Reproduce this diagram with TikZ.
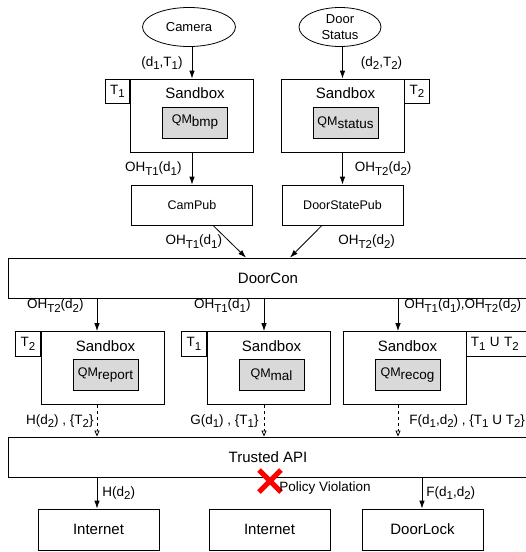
\documentclass[tikz,border=0pt]{standalone}
\usepackage{fontspec}
\setmainfont{Liberation Sans}
\newcommand*{\fs}[1]{\fontsize{#1}{#1}\selectfont}
\newcommand*{\sbs}[1]{\raisebox{-.45ex}{\scalebox{.85}{#1}}}
\newcommand*{\qmsub}[1]{QM\raisebox{-.45ex}{\fs{13.5}#1}}
\usetikzlibrary{positioning,shapes.geometric,shapes.misc,arrows.meta}
\tikzset{>={Latex[length=8pt,width=5.5pt]},
  box/.style={draw,minimum width=121pt,minimum height=41pt,inner sep=0pt,font=\fs{15}},
  pub/.style={box,minimum height=40pt,font=\fs{12.5}},
  bus/.style={draw,minimum width=520pt,minimum height=40pt,inner sep=0pt,font=\fs{15}},
  sensor/.style={draw,ellipse,minimum height=39pt,inner sep=0pt,align=center,font=\fontsize{13}{16}\selectfont},
  sandbox/.style={draw,minimum width=123pt,minimum height=73pt,inner sep=0pt},
  qm/.style={draw,fill=gray!30,minimum width=65pt,minimum height=31pt,inner sep=0pt,font=\fs{12.5}},
  tab/.style={draw,minimum width=24.5pt,minimum height=24.5pt,inner sep=0pt,font=\fs{13.5}},
  lbl/.style={inner sep=1pt,font=\fs{13.5}},
  flow/.style={dashed,-{Triangle[open,length=6pt,width=5pt]}}}

\begin{document}
\begin{tikzpicture}[x=1pt,y=-1pt,line width=.8pt]
\clip (0,0) rectangle (526,552);

\node[sensor,minimum width=93pt] (camera) at (189,27) {Camera};
\node[sensor,minimum width=82pt] (door) at (340,27) {Door\\Status};

\node[sandbox] (sbA) at (192,115.5) {};
\node[sandbox] (sbB) at (342.5,115.5) {};
\node[sandbox] (sbD) at (102.5,368) {};
\node[sandbox] (sbE) at (268.5,368) {};
\node[sandbox] (sbF) at (404.5,368) {};
\foreach \s/\q in {sbA/bmp,sbB/status,sbD/report,sbE/mal,sbF/recog} {
  \node[font=\fs{15},inner sep=0pt,xshift=3pt,yshift=-15pt] (\s-title) at (\s.north) {Sandbox};
  \node[qm,xshift=3pt,yshift=-7pt] (\s-qm) at (\s) {\qmsub{\q}};
}

\node[tab,anchor=north east] (tA) at (sbA.north west) {T\sbs{1}};
\node[tab,anchor=north west] (tB) at (sbB.north east) {T\sbs{2}};
\node[tab,anchor=north east] (tD) at (sbD.north west) {T\sbs{2}};
\node[tab,anchor=north east] (tE) at (sbE.north west) {T\sbs{1}};
\node[tab,anchor=north west,inner xsep=4pt,text width=62pt,align=left] (tF) at (sbF.north east) {T\sbs{1} U T\sbs{2}};

\node[pub] (campub) at (192,205) {CamPub};
\node[pub] (doorpub) at (342.5,205) {DoorStatePub};

\node[bus] (doorcon) at (268,278) {DoorCon};
\node[bus] (api) at (268,457) {Trusted API};

\node[box] (net1) at (98.5,529.5) {Internet};
\node[box] (net2) at (269.5,529.5) {Internet};
\node[box] (lock) at (422.5,529.5) {DoorLock};

\coordinate (cD) at (97,0);
\coordinate (cE) at (264,0);
\coordinate (cF) at (398,0);
\coordinate (cL) at (422,0);

\draw[->] (camera.south -| sbA.north) -- node[lbl,left=8pt] {(d\sbs{1},T\sbs{1})} (sbA.north);
\draw[->] (door.south -| sbB.north) -- node[lbl,right=17pt] {(d\sbs{2},T\sbs{2})} (sbB.north);
\draw[->] (sbA.south) -- node[lbl,left=9pt] {OH\sbs{T1}(d\sbs{1})} (campub.north);
\draw[->] (sbB.south) -- node[lbl,right=11pt] {OH\sbs{T2}(d\sbs{2})} (doorpub.north);
\draw[->] ([xshift=21pt]campub.south) -- node[lbl,left=6pt] {OH\sbs{T1}(d\sbs{1})} ([xshift=-22pt]doorcon.north);
\draw[->] ([xshift=-20.5pt]doorpub.south) -- node[lbl,right=31pt] {OH\sbs{T2}(d\sbs{2})} ([xshift=22pt]doorcon.north);

\draw[->] (cD |- doorcon.south) -- node[lbl,pos=.22,left=12pt] {OH\sbs{T2}(d\sbs{2})} (cD |- sbD.north);
\draw[->] (cE |- doorcon.south) -- node[lbl,pos=.22,left=12pt] {OH\sbs{T1}(d\sbs{1})} (cE |- sbE.north);
\draw[->] (cF |- doorcon.south) -- node[lbl,pos=.22,right=5pt] {OH\sbs{T1}(d\sbs{1}),OH\sbs{T2}(d\sbs{2})} (cF |- sbF.north);

\draw[flow] (cD |- sbD.south) -- node[lbl,left=2pt] {H(d\sbs{2}) , \{T\sbs{2}\}} (cD |- api.north);
\draw[flow] (cE |- sbE.south) -- node[lbl,left=4pt] {G(d\sbs{1}) , \{T\sbs{1}\}} (cE |- api.north);
\draw[flow] (cF |- sbF.south) -- node[lbl,right=10pt] {F(d\sbs{1},d\sbs{2}) , \{T\sbs{1} U T\sbs{2}\}} (cF |- api.north);

\draw[->] (cD |- api.south) -- node[lbl,right=4pt] {H(d\sbs{2})} (cD |- net1.north);
\draw[->] (cL |- api.south) -- node[lbl,right=3pt] {F(d\sbs{1},d\sbs{2})} (cL |- lock.north);

\node[cross out,draw=red,line width=5pt,minimum size=17pt,inner sep=0pt] (veto) at (270,481) {};
\node[lbl,anchor=west] (viol) at (278,488) {Policy Violation};
\end{tikzpicture}
\end{document}
